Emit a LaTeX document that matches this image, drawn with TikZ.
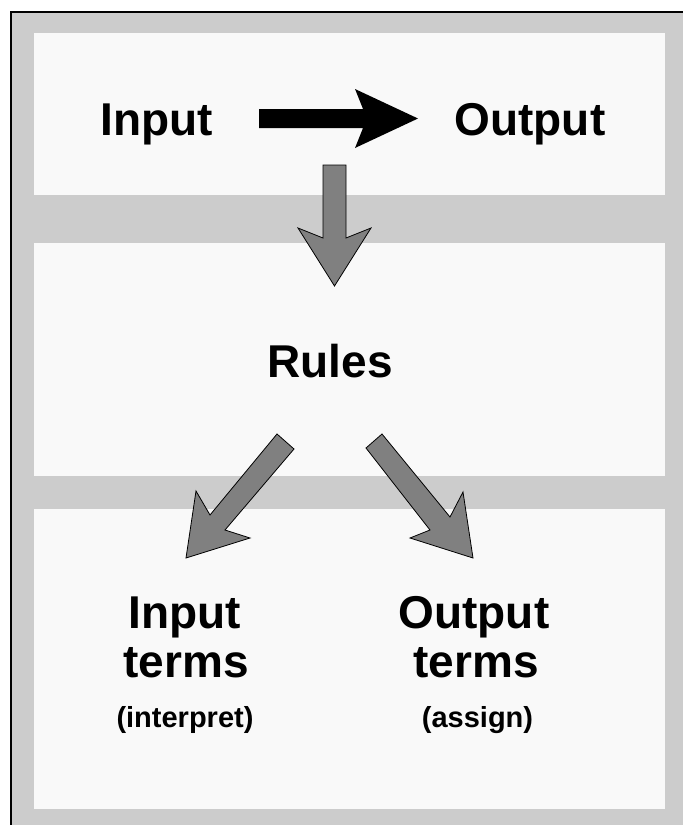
\documentclass[tikz,border=0pt]{standalone}
\usepackage{fontspec}
\setmainfont{Liberation Sans}
\usetikzlibrary{positioning}
\definecolor{band}{HTML}{CCCCCC}
\definecolor{panel}{HTML}{F9F9F9}
\definecolor{arrowgray}{HTML}{808080}

\begin{document}
\begin{tikzpicture}
    [
        x=1pt, y=-1pt,
        panelbox/.style={fill=panel},
        bigtext/.style={font=\fontsize{46}{49}\selectfont\bfseries, anchor=base, inner sep=0pt},
        smalltext/.style={font=\fontsize{29}{32}\selectfont\bfseries, anchor=base, inner sep=0pt},
        blockarrow/.style={fill=arrowgray, draw=black, line width=0.8pt, line join=miter},
        flowarrow/.style={fill=black}
    ]
    \useasboundingbox (0,0) rectangle (683,825);
    \fill[white] (0,0) rectangle (683,825);
    \fill[band] (11,12) rectangle (683,825);
    \draw[line width=2pt] (11,825) -- (11,12) -- (683,12);

    % the three layers
    \fill[panelbox] (34,33) rectangle (665,195);
    \fill[panelbox] (34,243) rectangle (665,476);
    \fill[panelbox] (34,509) rectangle (665,809);

    % top layer
    \node[bigtext] (input) at (156.5,135) {Input};
    \node[bigtext] (output) at (530,135) {Output};
    \fill[flowarrow] (259,109) -- (363,109) -- (355,89) -- (418,118.5)
        -- (355,148) -- (363,128) -- (259,128) -- cycle;

    % middle layer
    \draw[blockarrow] (323,165) -- (346,165) -- (346,238) -- (371,228)
        -- (334.5,286) -- (298,228) -- (323,238) -- cycle;
    \node[bigtext] (rules) at (330,377) {Rules};

    % bottom layer
    \draw[blockarrow] (277,434) -- (294,449) -- (225,530) -- (250,538)
        -- (186,558) -- (196,491) -- (210,515) -- cycle;
    \draw[blockarrow] (366,448) -- (382,434) -- (450,517) -- (463,492)
        -- (473,558) -- (410,538) -- (430,530) -- cycle;

    \node[bigtext] (interm1) at (185,628) {Input};
    \node[bigtext] (interm2) at (186,677) {terms};
    \node[smalltext] (interp) at (185,727) {(interpret)};

    \node[bigtext] (outterm1) at (474,628) {Output};
    \node[bigtext] (outterm2) at (476,677) {terms};
    \node[smalltext] (assign) at (477.5,727) {(assign)};
\end{tikzpicture}
\end{document}
